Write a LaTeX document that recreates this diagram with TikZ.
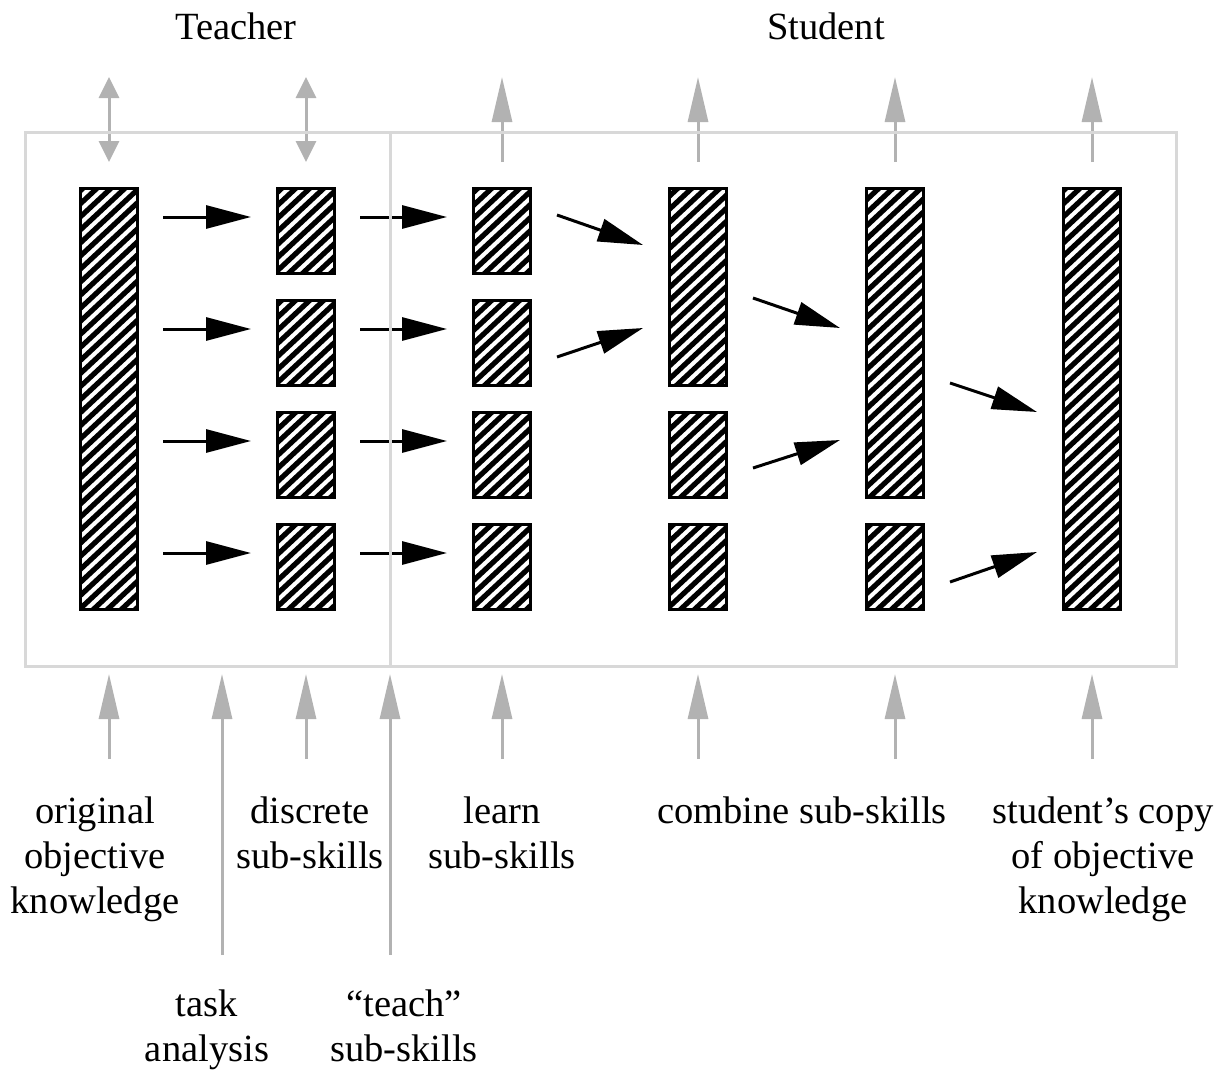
\documentclass[tikz,border=0pt]{standalone}
\usepackage{fontspec}
\setmainfont{Liberation Serif}
\usetikzlibrary{arrows.meta,calc}
\definecolor{framegray}{RGB}{216,216,216}
\definecolor{arrowgray}{RGB}{178,178,178}
\begin{document}
\begin{tikzpicture}[x=1pt,y=-1pt,
  hatched/.style={draw=black, line width=3pt, inner sep=0pt, outer sep=1.5pt,
    minimum width=57pt, fill=white,
    path picture={
      \foreach \k in {-24,...,24}
        \draw[black, line width=5.2pt]
          ([xshift=\k*14pt]path picture bounding box.center) ++(223:460pt) -- ++(43:920pt);
    }},
  skill/.style={hatched, minimum height=85pt},
  skillbar/.style={hatched, minimum height=#1},
  arr/.style={black, line width=3pt, -{Triangle[length=45pt,width=23pt]}},
  garr/.style={arrowgray, line width=3pt, -{Triangle[length=45pt,width=20pt]}},
  gdbl/.style={arrowgray, line width=3pt,
    {Triangle[length=21pt,width=20pt]}-{Triangle[length=21pt,width=20pt]}},
  lab/.style={font=\fontsize{38.5}{45}\selectfont, align=center, anchor=north, inner sep=0pt},
]
\useasboundingbox (0,0) rectangle (1227,1071);

% headings
\node[lab] (teacher) at (236,13) {Teacher};
\node[lab] (student) at (826,13) {Student};

% column 1: original knowledge
\node[skillbar=421pt] (c1) at (109,399) {};
% columns 2 and 3: discrete sub-skills
\foreach \r/\y in {1/231,2/343,3/455,4/567} {
  \node[skill] (c2r\r) at (306,\y) {};
  \node[skill] (c3r\r) at (502,\y) {};
}
% column 4
\node[skillbar=197pt] (c4a) at (698,287) {};
\node[skill] (c4r3) at (698,455) {};
\node[skill] (c4r4) at (698,567) {};
% column 5
\node[skillbar=309pt] (c5a) at (895,343) {};
\node[skill] (c5r4) at (895,567) {};
% column 6: student's copy
\node[skillbar=421pt] (c6) at (1092,399) {};

% task analysis and teaching arrows
\foreach \r in {1,...,4} {
  \draw[arr] ($(c1.east |- c2r\r)+(24,-14)$) -- ($(c2r\r.west)+(-25,-14)$);
  \draw[arr] ($(c2r\r.east)+(24,-14)$) -- ($(c3r\r.west)+(-25,-14)$);
}
% combining arrows
\draw[arr] ($(c3r1.east)+(25,-16)$) -- ($(c4a.west)+(-25,-42)$);
\draw[arr] ($(c3r2.east)+(25,14)$) -- ($(c4a.west)+(-25,41)$);
\draw[arr] ($(c4a.east)+(25,11)$) -- ($(c5a.west)+(-25,-15)$);
\draw[arr] ($(c4r3.east)+(25,13)$) -- ($(c5a.west)+(-25,97)$);
\draw[arr] ($(c5a.east)+(25,40)$) -- ($(c6.west)+(-25,13)$);
\draw[arr] ($(c5r4.east)+(25,15)$) -- ($(c6.west)+(-25,153)$);

% upper grey arrows
\draw[gdbl] ($(c1.north)+(0,-25)$) -- ($(c1.north)+(0,-110)$);
\draw[gdbl] ($(c2r1.north)+(0,-25)$) -- ($(c2r1.north)+(0,-110)$);
\foreach \n in {c3r1,c4a,c5a,c6}
  \draw[garr] ($(\n.north)+(0,-25)$) -- ($(\n.north)+(0,-110)$);

% lower grey arrows
\foreach \n in {c1,c2r4,c3r4,c4r4,c5r4,c6}
  \draw[garr] ($(\n.south)+(0,148)$) -- ($(\n.south)+(0,63)$);
\coordinate (ta) at (222,955);
\coordinate (tt) at (390,955);
\draw[garr] (ta) -- ($(ta |- c1.south)+(0,63)$);
\draw[garr] (tt) -- ($(tt |- c1.south)+(0,63)$);

% teacher / student frame
\draw[framegray, line width=3pt] (25,132) rectangle (1176,666);
\draw[framegray, line width=3pt] (390,132) -- (390,666);

% labels
\node[lab] (lorig)  at (95,797)   {original\\objective\\knowledge};
\node[lab] (ldisc)  at (310,797)  {discrete\\sub-skills};
\node[lab] (llearn) at (502,797)  {learn\\sub-skills};
\node[lab] (lcomb)  at (802,797)  {combine sub-skills};
\node[lab] (lcopy)  at (1103,797) {student’s copy\\of objective\\knowledge};
\node[lab] (ltask)  at (207,990)  {task\\analysis};
\node[lab] (lteach) at (404,990)  {“teach”\\sub-skills};
\end{tikzpicture}
\end{document}
